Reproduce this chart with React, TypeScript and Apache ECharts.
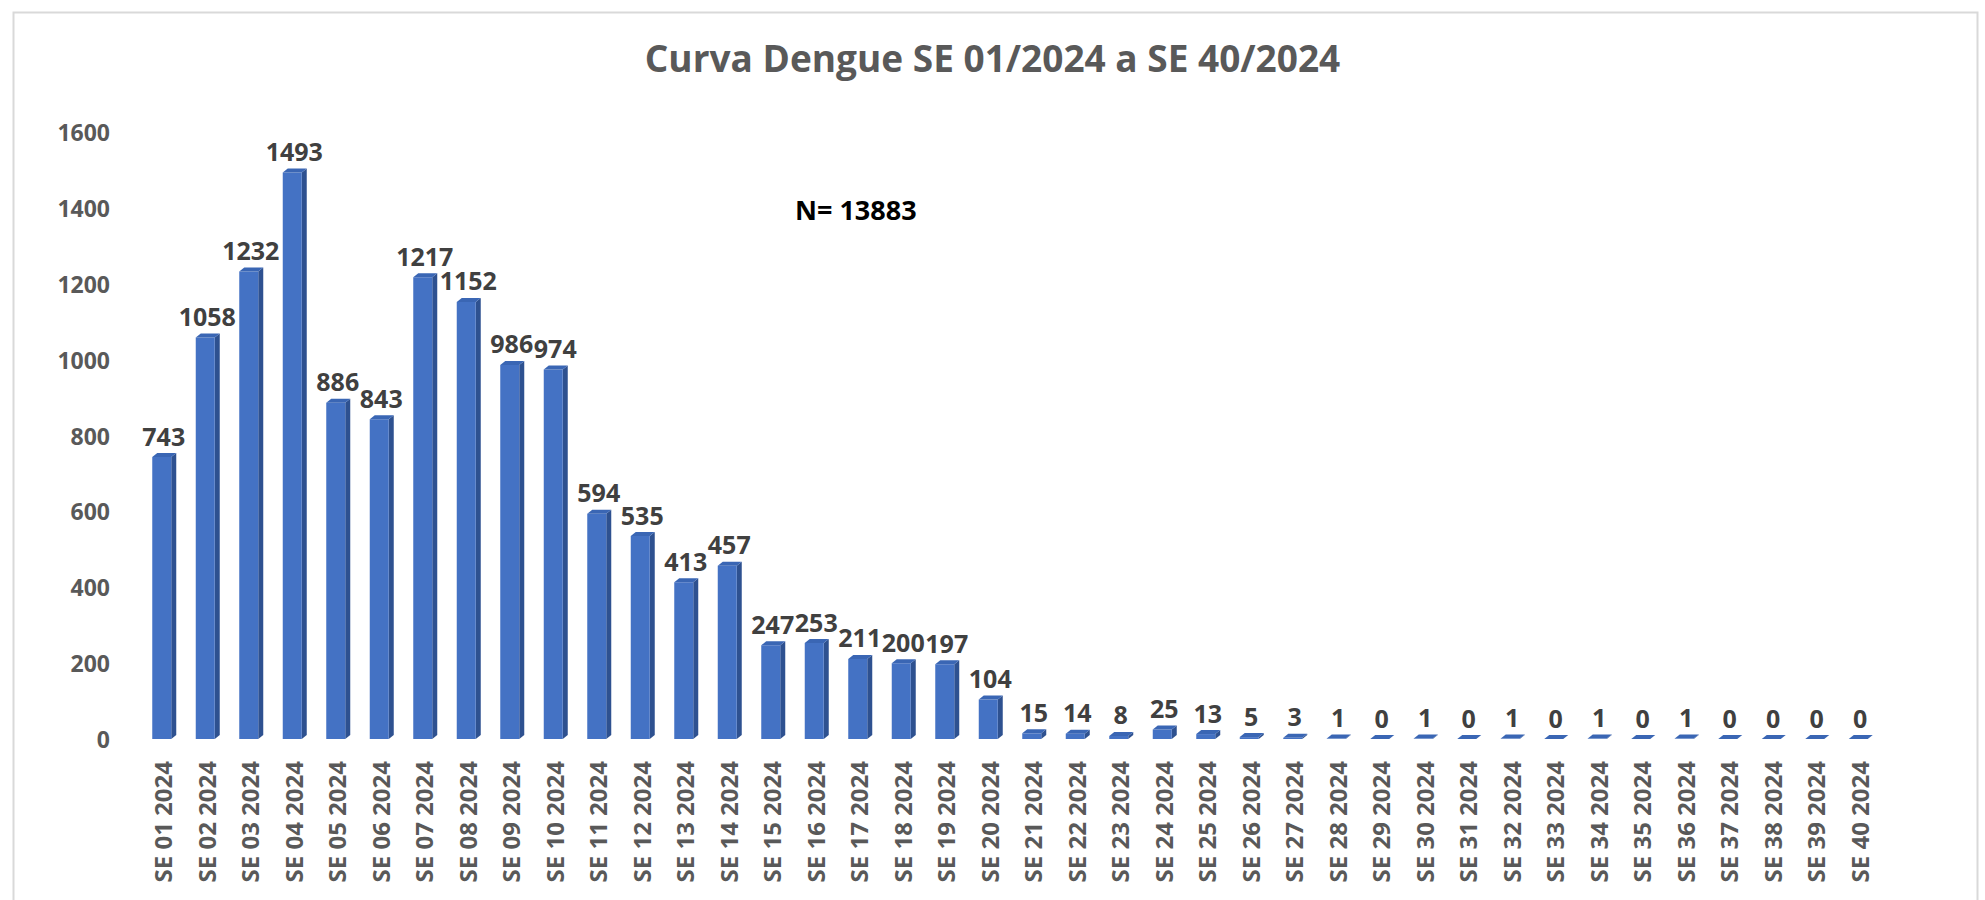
import React, { useEffect, useRef } from "react";
import * as echarts from "echarts";

const weeks: string[] = [
  "SE 01 2024", "SE 02 2024", "SE 03 2024", "SE 04 2024", "SE 05 2024",
  "SE 06 2024", "SE 07 2024", "SE 08 2024", "SE 09 2024", "SE 10 2024",
  "SE 11 2024", "SE 12 2024", "SE 13 2024", "SE 14 2024", "SE 15 2024",
  "SE 16 2024", "SE 17 2024", "SE 18 2024", "SE 19 2024", "SE 20 2024",
  "SE 21 2024", "SE 22 2024", "SE 23 2024", "SE 24 2024", "SE 25 2024",
  "SE 26 2024", "SE 27 2024", "SE 28 2024", "SE 29 2024", "SE 30 2024",
  "SE 31 2024", "SE 32 2024", "SE 33 2024", "SE 34 2024", "SE 35 2024",
  "SE 36 2024", "SE 37 2024", "SE 38 2024", "SE 39 2024", "SE 40 2024",
];

const cases: number[] = [
  743, 1058, 1232, 1493, 886, 843, 1217, 1152, 986, 974,
  594, 535, 413, 457, 247, 253, 211, 200, 197, 104,
  15, 14, 8, 25, 13, 5, 3, 1, 0, 1,
  0, 1, 0, 1, 0, 1, 0, 0, 0, 0,
];

const yTicks = { min: 0, max: 1600, interval: 200 };
const titleText = "Curva Dengue SE 01/2024 a SE 40/2024";
const totalText = "N= 13883";

const FONT = '"Open Sans", "Liberation Sans", sans-serif';
const FRONT = "#4472C4";
const SIDE = "#2E5190";
const TOP = "#3A66B4";

export default function App() {
  const ref = useRef<HTMLDivElement>(null);

  useEffect(() => {
    if (!ref.current) return;
    const chart = echarts.init(ref.current, null, { renderer: "svg" });

    const renderItem = (params: any, api: any) => {
      const idx = api.value(0);
      const v = api.value(1);
      const top = api.coord([idx, v]);
      const base = api.coord([idx, 0]);
      const w = 19;
      const dx = 5;
      const dy = 4;
      const x0 = top[0] - w / 2 - 1;
      const x1 = x0 + w;
      const yT = top[1];
      const yB = base[1];
      return {
        type: "group",
        children: [
          {
            type: "polygon",
            shape: { points: [[x1, yB], [x1 + dx, yB - dy], [x1 + dx, yT - dy], [x1, yT]] },
            style: { fill: SIDE },
          },
          {
            type: "rect",
            shape: { x: x0, y: yT, width: w, height: yB - yT },
            style: { fill: FRONT },
          },
          {
            type: "polygon",
            shape: { points: [[x0, yT], [x0 + dx, yT - dy], [x1 + dx, yT - dy], [x1, yT]] },
            style: { fill: TOP },
          },
          {
            type: "text",
            x: (x0 + x1) / 2 + 2,
            y: yT - dy - 5,
            style: {
              text: String(v),
              fill: "#404040",
              fontSize: 25,
              fontWeight: "bold",
              fontFamily: FONT,
              align: "center",
              verticalAlign: "bottom",
            },
          },
        ],
      };
    };

    chart.setOption({
      animation: false,
      backgroundColor: "#ffffff",
      title: {
        text: titleText,
        left: "center",
        top: 34,
        textStyle: {
          fontSize: 37,
          fontWeight: "bold",
          color: "#595959",
          fontFamily: FONT,
        },
      },
      graphic: [
        {
          type: "rect",
          left: 11,
          top: 10,
          shape: { width: 1964, height: 900 },
          style: { fill: "none", stroke: "#d9d9d9", lineWidth: 2 },
          silent: true,
        },
        {
          type: "text",
          left: 795,
          top: 196,
          style: {
            text: totalText,
            fill: "#000000",
            fontSize: 27,
            fontWeight: "bold",
            fontFamily: FONT,
          },
        },
      ],
      grid: { left: 141, right: 104, top: 132, bottom: 161 },
      xAxis: {
        type: "category",
        data: weeks,
        boundaryGap: true,
        axisLine: { show: false },
        axisTick: { show: false },
        axisLabel: {
          rotate: 90,
          interval: 0,
          margin: 22,
          color: "#595959",
          fontSize: 24,
          fontWeight: "bold",
          fontFamily: FONT,
        },
      },
      yAxis: {
        type: "value",
        min: yTicks.min,
        max: yTicks.max,
        interval: yTicks.interval,
        splitLine: { show: false },
        axisLine: { show: false },
        axisTick: { show: false },
        axisLabel: {
          margin: 31,
          color: "#595959",
          fontSize: 23,
          fontWeight: "bold",
          fontFamily: FONT,
          formatter: (v: number) => String(v),
        },
      },
      series: [
        {
          type: "custom",
          renderItem,
          encode: { x: 0, y: 1 },
          data: cases.map((v, i) => [i, v]),
        },
      ],
    });

    return () => chart.dispose();
  }, []);

  return (
    <div
      ref={ref}
      style={{ position: "fixed", left: 0, top: 0, width: 1985, height: 900 }}
    />
  );
}
